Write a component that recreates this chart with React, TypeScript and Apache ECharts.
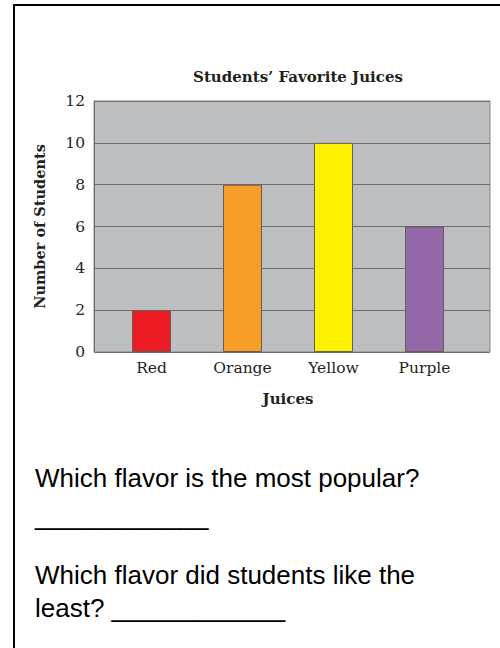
import React, { useEffect, useRef } from "react";
import * as echarts from "echarts";

const categories = ["Red", "Orange", "Yellow", "Purple"];
const values = [2, 8, 10, 6];
const barColors = ["#ed1c24", "#f79e28", "#fff200", "#9467a9"];
const yTicks = { min: 0, max: 12, interval: 2 };
const chartTitle = "Students\u2019 Favorite Juices";
const yName = "Number of Students";
const xName = "Juices";
const question1 = "Which flavor is the most popular?";
const question2a = "Which flavor did students like the";
const question2b = "least? ____________";
const blank = "____________";

export default function App() {
  const ref = useRef<HTMLDivElement>(null);
  useEffect(() => {
    document.body.style.margin = "0";
    const chart = echarts.init(ref.current!, null, { renderer: "svg" });
    const serif = "DejaVu Serif";
    const sans = "Liberation Sans";
    const ink = "#231f20";
    chart.setOption({
      animation: false,
      backgroundColor: "#ffffff",
      grid: [
        {
          left: 94, top: 101, right: 10, bottom: 296,
          show: true, backgroundColor: "#bcbec0", borderColor: "#8a8b8d", borderWidth: 1,
        },
        { left: 106, top: 101, right: 30, bottom: 296 },
      ],
      xAxis: [
        { type: "value", gridIndex: 0, min: 0, max: 1, show: false },
        {
          type: "category", gridIndex: 1, data: categories,
          axisLine: { show: false }, axisTick: { show: false },
          axisLabel: { fontFamily: serif, fontSize: 15.5, color: ink, margin: 8 },
          name: xName, nameLocation: "middle", nameGap: 39,
          nameTextStyle: { fontFamily: serif, fontSize: 15, fontWeight: "bold", color: ink },
        },
      ],
      yAxis: [
        {
          type: "value", gridIndex: 0, min: yTicks.min, max: yTicks.max, interval: yTicks.interval,
          axisLine: { show: true, lineStyle: { color: "#6d6e71", width: 1 } },
          axisTick: { show: false },
          splitLine: { show: true, lineStyle: { color: "#6d6e71", width: 1.2 } },
          axisLabel: { fontFamily: serif, fontSize: 15.5, color: ink, margin: 9 },
          name: yName, nameLocation: "middle", nameGap: 47, nameRotate: 90,
          nameTextStyle: { fontFamily: serif, fontSize: 14.5, fontWeight: "bold", color: ink },
        },
        { type: "value", gridIndex: 1, min: yTicks.min, max: yTicks.max, show: false },
      ],
      series: [
        {
          type: "bar", xAxisIndex: 1, yAxisIndex: 1, barWidth: 39,
          data: values.map((v, i) => ({
            value: v,
            itemStyle: { color: barColors[i], borderColor: "#6a5c50", borderWidth: 1 },
          })),
        },
      ],
      graphic: [
        { type: "rect", shape: { x: 13, y: 4, width: 487, height: 2 }, style: { fill: "#000" } },
        { type: "rect", shape: { x: 13, y: 4, width: 2, height: 644 }, style: { fill: "#000" } },
        {
          type: "text", x: 298, y: 77,
          style: { text: chartTitle, fontFamily: serif, fontSize: 15, fontWeight: "bold", fill: ink, align: "center", verticalAlign: "middle" },
        },
        { type: "text", x: 35, y: 478, style: { text: question1, fontFamily: sans, fontSize: 26, fill: "#000", verticalAlign: "middle" } },
        { type: "text", x: 35, y: 516, style: { text: blank, fontFamily: sans, fontSize: 26, fill: "#000", verticalAlign: "middle" } },
        { type: "text", x: 35, y: 575, style: { text: question2a, fontFamily: sans, fontSize: 26, fill: "#000", verticalAlign: "middle" } },
        { type: "text", x: 35, y: 608, style: { text: question2b, fontFamily: sans, fontSize: 26, fill: "#000", verticalAlign: "middle" } },
      ],
    });
    return () => chart.dispose();
  }, []);
  return <div ref={ref} style={{ width: 500, height: 648 }} />;
}
